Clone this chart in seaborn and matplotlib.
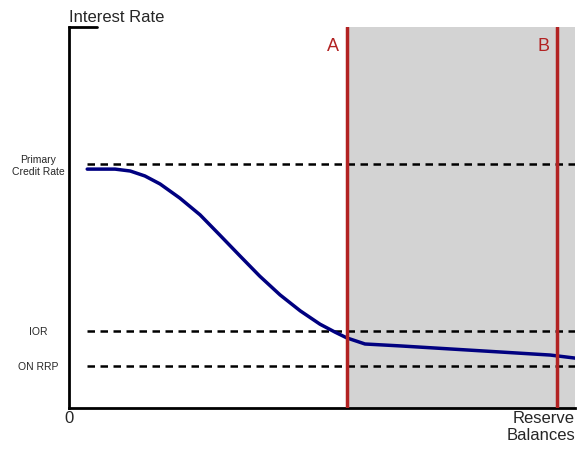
import matplotlib
matplotlib.use("Agg")
import matplotlib.pyplot as plt
import seaborn as sns

sns.set_style("white")
plt.rcParams['font.family'] = ['Liberation Sans', 'DejaVu Sans']

curve_x = [3.6, 6.1, 9.1, 12.1, 15.0, 18.0, 21.9, 25.9, 29.8, 33.8, 37.7, 41.7,
           45.7, 49.6, 52.6, 54.9, 58.5, 65.4, 75.3, 85.2, 95.1, 100.0]
curve_y = [62.7, 62.7, 62.7, 62.2, 60.9, 58.8, 55.1, 50.7, 45.4, 39.9, 34.6, 29.7,
           25.5, 22.0, 19.9, 18.4, 16.8, 16.3, 15.5, 14.7, 13.9, 13.1]
rate_names = ["Primary\nCredit Rate", "IOR", "ON RRP"]
rate_levels = [64.0, 20.2, 11.0]
dash_start = 3.6
marker_names = ["A", "B"]
marker_x = [54.9, 96.4]

fig = plt.figure(figsize=(5.77, 4.49), dpi=100)
ax = fig.add_axes([69/577, 41/449, 506/577, 381/449])
ax.axvspan(marker_x[0], 100, color="#d3d3d3", zorder=0, lw=0)
for lvl in rate_levels:
    ax.plot([dash_start, 100], [lvl, lvl], ls=(0, (3, 2.2)), color="black", lw=1.8, zorder=2)
sns.lineplot(x=curve_x, y=curve_y, ax=ax, color="#000080", lw=2.5, zorder=3)
for name, xv in zip(marker_names, marker_x):
    ax.axvline(xv, color="#b22222", lw=2.5, zorder=4)
    ax.text(xv - 1.5, 97, name, color="#b22222", fontsize=13, ha="right", va="top")
ax.plot([0, 5.5], [100, 100], color="black", lw=2, clip_on=False)
ax.set_xlim(0, 100)
ax.set_ylim(0, 100)
ax.set_yticks(rate_levels)
ax.set_yticklabels(rate_names, fontsize=7.5, ha="center")
ax.tick_params(axis="y", length=0, pad=22)
ax.set_xticks([0, 100])
labels = ax.set_xticklabels(["0", "Reserve\nBalances"], fontsize=12)
labels[1].set_horizontalalignment("right")
labels[1].set_multialignment("right")
ax.tick_params(axis="x", length=0, pad=2)
for s in ["top", "right"]:
    ax.spines[s].set_visible(False)
for s in ["left", "bottom"]:
    ax.spines[s].set_color("black")
    ax.spines[s].set_linewidth(2)
fig.text(69/577, 1 - 17/449, "Interest Rate", fontsize=12, va="center", ha="left")
fig.savefig("out.png", dpi=100)
